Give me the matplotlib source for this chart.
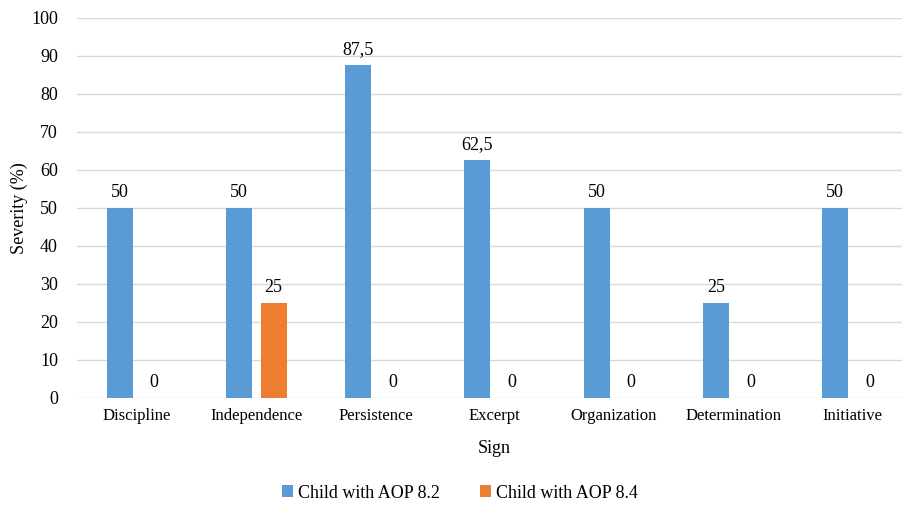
import matplotlib.pyplot as plt
import numpy as np

plt.rcParams['font.family'] = ['Liberation Serif', 'DejaVu Serif']

FONT_SIZE = 13
FONT_SIZE_XTICKS = 12

# Data
signs = ['Discipline', 'Independence', 'Persistence', 'Excerpt',
         'Organization', 'Determination', 'Initiative']
aop_82 = [50, 50, 87.5, 62.5, 50, 25, 50]
aop_84 = [0, 25, 0, 0, 0, 0, 0]
series_names = ['Child with AOP 8.2', 'Child with AOP 8.4']
colors = ['#5B9BD5', '#ED7D31']

fig = plt.figure(figsize=(9.02, 5.09), dpi=100)
ax = fig.add_axes([0.0858, 0.2181, 0.9253, 0.7466])

x = np.arange(len(signs))
width = 0.218
offset = 0.145

for vals, name, color, sign in zip([aop_82, aop_84], series_names, colors, [-1, 1]):
    bars = ax.bar(x + sign * offset, vals, width, color=color, label=name, zorder=3)
    for bar, v in zip(bars, vals):
        label = f'{v:g}'.replace('.', ',')
        ax.annotate(label, (bar.get_x() + bar.get_width() / 2, bar.get_height()),
                    xytext=(0, 5), textcoords='offset points',
                    ha='center', va='bottom', fontsize=FONT_SIZE)

ax.set_xlim(-0.5, len(signs) - 0.5)
ax.set_ylim(0, 100)
ax.set_yticks(np.arange(0, 101, 10))
ax.set_xticks(x)
ax.set_xticklabels(signs, fontsize=FONT_SIZE_XTICKS)
ax.tick_params(axis='both', length=0)
ax.tick_params(axis='y', labelsize=FONT_SIZE, pad=14)
ax.tick_params(axis='x', pad=7)
ax.grid(axis='y', color='#d9d9d9', linewidth=1, zorder=0)
for spine in ax.spines.values():
    spine.set_visible(False)

ax.set_xlabel('Sign', fontsize=FONT_SIZE, labelpad=12)
ax.set_ylabel('Severity (%)', fontsize=FONT_SIZE, labelpad=2)

fig.legend(loc='center', bbox_to_anchor=(460 / 902, 1 - 493 / 509), ncol=2,
           frameon=False, fontsize=FONT_SIZE, handlelength=0.6, handleheight=0.6,
           handletextpad=0.3, columnspacing=2.2)

fig.savefig('out.png', dpi=100)
